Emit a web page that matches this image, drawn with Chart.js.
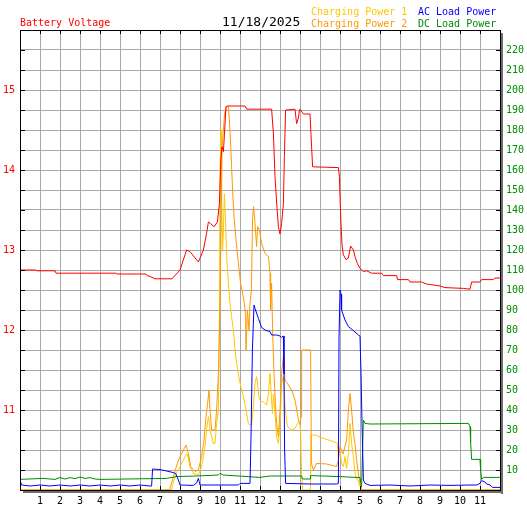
<!DOCTYPE html>
<html>
<head>
<meta charset="utf-8">
<script src="https://cdn.jsdelivr.net/npm/chart.js@4"></script>
<style>
  html, body { margin: 0; padding: 0; background: #fff; }
</style>
</head>
<body>
<canvas id="chart" width="527" height="510"></canvas>
<script>
const RED = "#ff0000";
const GOLD = "#ffc800";
const ORANGE = "#ff9900";
const BLUE = "#0000ff";
const GREEN = "#008c00";
const GRID = "#a8a8a8";
const MONO = "'DejaVu Sans Mono', monospace";

const DATE_TEXT = "11/18/2025";
const HOUR_LABELS = ["", "1", "2", "3", "4", "5", "6", "7", "8", "9", "10", "11", "12",
  "1", "2", "3", "4", "5", "6", "7", "8", "9", "10", "11", ""];
const VOLT_LABELS = [11, 12, 13, 14, 15];
const WATT_LABELS = [10, 20, 30, 40, 50, 60, 70, 80, 90, 100, 110, 120, 130, 140, 150, 160, 170, 180, 190, 200, 210, 220];

// hours since midnight / values
const BATT_T = [0, 0.8, 0.85, 1.75, 1.8, 4.8, 4.85, 6.3, 6.35, 6.5, 6.75, 7.6, 8.0, 8.33, 8.5, 8.92, 9.17, 9.33, 9.42, 9.53, 9.7, 9.87, 9.97, 10.05, 10.1, 10.17, 10.22, 10.3, 10.37, 11.25, 11.33, 12.58, 12.67, 12.75, 12.83, 12.92, 13.0, 13.08, 13.17, 13.22, 13.28, 13.75, 13.83, 13.92, 13.97, 14.0, 14.17, 14.5, 14.55, 14.63, 15.92, 15.97, 16.0, 16.05, 16.1, 16.17, 16.3, 16.42, 16.53, 16.67, 16.75, 16.87, 17.0, 17.17, 17.33, 17.58, 18.08, 18.17, 18.83, 18.88, 19.42, 19.5, 20.08, 20.33, 21.0, 21.25, 22.17, 22.5, 22.58, 23.0, 23.08, 23.67, 23.75, 24];
const BATT_V = [12.75, 12.75, 12.74, 12.74, 12.71, 12.71, 12.70, 12.70, 12.68, 12.67, 12.64, 12.64, 12.75, 13.0, 12.98, 12.85, 13.0, 13.21, 13.35, 13.33, 13.29, 13.35, 13.58, 14.17, 14.29, 14.23, 14.44, 14.79, 14.80, 14.80, 14.76, 14.76, 14.46, 13.92, 13.6, 13.29, 13.2, 13.33, 13.58, 14.17, 14.75, 14.76, 14.58, 14.65, 14.75, 14.76, 14.70, 14.70, 14.44, 14.04, 14.03, 13.92, 13.67, 13.33, 13.06, 12.94, 12.88, 12.90, 13.05, 13.0, 12.92, 12.83, 12.77, 12.73, 12.74, 12.71, 12.71, 12.68, 12.68, 12.63, 12.63, 12.60, 12.60, 12.575, 12.55, 12.53, 12.52, 12.51, 12.60, 12.60, 12.63, 12.63, 12.65, 12.65];

const CP1_T = [0, 7.58, 7.67, 7.83, 8.0, 8.17, 8.33, 8.42, 8.5, 8.67, 8.92, 9.08, 9.25, 9.33, 9.42,
  9.5, 9.67, 9.75, 9.83, 9.92, 9.97, 10.0, 10.05, 10.08, 10.13, 10.17, 10.22, 10.27, 10.33, 10.42, 10.5, 10.58, 10.67, 10.75, 10.83, 10.97, 11.08, 11.17, 11.3, 11.42, 11.5, 11.58, 11.67, 11.75, 11.83, 11.97, 12.17, 12.33, 12.42, 12.5, 12.55, 12.62, 12.67, 12.75, 12.83, 12.92, 13.0, 13.08, 13.17, 13.25, 13.37, 13.58, 13.75, 13.87, 13.97, 14.03, 14.08, 14.13, 14.52,
  14.55, 14.75, 15.17, 15.67, 15.88, 15.92, 16.0, 16.08, 16.17, 16.25, 16.33, 16.42, 16.5, 16.58, 16.67, 16.75, 16.83, 16.92, 17.0, 17.1, 24];
const CP1_W = [0, 0, 4.2, 8.3, 11.7, 15, 18.3, 16, 11.7, 8.3, 7.5, 11.7, 21.7, 30, 36.7,
  30, 23.3, 23.3, 33.3, 40, 83, 158, 180, 150, 120, 130, 148, 136.7, 116.7, 103.3, 93.3, 86.7, 80, 70, 63.3, 55, 50, 46.7, 40, 33.3, 32.5, 32.5, 41.7, 53.3, 56.7, 45, 44, 42.5, 48, 58.3, 50, 38.3, 48, 38.3, 26.7, 23.3, 33.3, 53.3, 56.7, 41.7, 31.7, 30, 30.8, 33.3, 34, 30, 8.3, 0, 0,
  27.5, 27.5, 25.8, 24.2, 23.3, 16.7, 20, 13.3, 11.7, 16.7, 10.8, 18.3, 33.3, 23.3, 16.7, 8.3, 5.8, 4.2, 1.7, 0, 0];

const CP2_T = [0, 7.47, 7.67, 7.92, 8.17, 8.3, 8.42, 8.53, 8.75, 8.92, 9.08, 9.2, 9.3, 9.38, 9.45,
  9.5, 9.58, 9.75, 9.83, 9.92, 10.0, 10.05, 10.1, 10.17, 10.23, 10.33, 10.42, 10.47, 10.53, 10.58, 10.63, 10.7, 10.8, 10.92, 11.03, 11.13, 11.22, 11.28, 11.3, 11.37, 11.45, 11.5, 11.57, 11.63, 11.68, 11.75, 11.83, 11.88, 11.97, 12.08, 12.25, 12.42, 12.5, 12.53, 12.58, 12.63, 12.7, 12.77, 12.83, 12.92, 13.0, 13.08, 13.17, 13.25, 13.37, 13.58, 13.75, 13.87, 13.92, 14.0, 14.05, 14.08, 14.53, 14.57,
  14.67, 14.83, 15.33, 15.83, 15.92, 16.0, 16.15, 16.33, 16.42, 16.5, 16.58, 16.67, 16.75, 16.83, 16.92, 17.0, 17.08, 17.15, 24];
const CP2_W = [0, 0, 6.7, 15, 20, 22.5, 18.3, 11.7, 9.2, 10, 16.7, 25, 36.7, 43.3, 50,
  40, 30, 30, 40, 58.3, 91.7, 130, 171.7, 180, 188.3, 191.7, 191.7, 185, 173.3, 161.7, 150, 136.7, 125, 113.3, 103.3, 98.3, 93.3, 86.7, 70, 90, 80, 93.3, 100, 136.7, 141.7, 133.3, 121.7, 131.7, 130, 123.3, 118.3, 116.7, 108.3, 90, 103.3, 80, 58.3, 43.3, 33.3, 26.7, 40, 58.3, 66.7, 55, 53.3, 50, 45, 38.3, 35, 33.3, 36.7, 70, 70, 13.3,
  10, 13.3, 13, 11.7, 15, 21.7, 18, 25, 40, 48.3, 40, 28.3, 23.3, 15, 8.3, 3.3, 0.8, 0, 0];

const AC_T = [0, 0.08, 0.5, 1, 1.5, 2, 2.5, 3, 3.5, 4, 4.5, 5, 5.5, 6, 6.5, 6.58, 6.63, 7.0, 7.33, 7.67, 7.78, 7.92, 8.0, 8.67, 8.83, 8.92, 9.0, 10.92, 11.0, 11.5, 11.55, 11.62, 11.7, 11.75, 11.92, 12.08, 12.25, 12.5, 12.58, 12.83, 13.0, 13.08, 13.17, 13.2, 13.23, 13.28, 14.5, 15.83, 15.92, 15.95, 16.0, 16.05, 16.08, 16.25, 16.42, 16.67, 16.92, 17.0, 17.05, 17.1, 17.17, 17.25, 17.5, 18.5, 19.5, 20.5, 21.5, 22.5, 22.83, 23.0, 23.08, 23.25, 23.33, 23.5, 23.63, 24];
const AC_W = [5, 2.5, 2, 2.5, 2, 2.5, 2, 2.5, 2, 2.5, 2, 2.5, 2, 2.5, 2, 2, 10.5, 10.2, 9.5, 8.7, 8.3, 5, 2.5, 2.3, 3.5, 5.8, 2.5, 2.5, 3.3, 3.3, 26.7, 70, 92.5, 90.8, 85.8, 81.3, 80, 79.2, 77.5, 77.5, 77, 76.3, 77, 58, 20, 3.3, 3, 3, 3.3, 75.8, 100, 98, 90, 85, 81.7, 79.7, 77.5, 77, 58.3, 33.3, 5, 3.3, 2.3, 2.5, 2, 2.5, 2.3, 2.5, 2.5, 3.3, 4.7, 4, 3, 2.5, 1.3, 1.3];

const DC_T = [0, 1.15, 1.75, 2.0, 2.25, 2.5, 2.75, 3.0, 3.25, 3.5, 3.75, 4.0, 7.33, 7.83, 8.83, 9.92, 10.0, 10.17, 12.0, 12.5, 14.08, 14.13, 14.5, 14.53, 16.0, 17.0, 17.08, 17.13, 17.17, 17.25, 17.5, 22.42, 22.5, 22.53, 22.58, 23.0, 23.03, 23.08, 23.17, 24];
const DC_W = [5.3, 5.8, 5.3, 6.2, 5.5, 6.2, 5.7, 6.5, 5.8, 6.2, 5.5, 5.3, 5.8, 6.7, 7, 7.5, 8.3, 7.5, 6.3, 7, 7, 5.5, 5.5, 7.2, 6.7, 6.2, 1.7, 20.8, 35, 33.3, 33, 33.3, 31.7, 24.2, 15.3, 15.3, 10, 5.3, 6.3, 6.3];

const pts = (t, v) => t.map((x, i) => ({ x, y: v[i] }));

function line(label, t, v, color, axis, order) {
  return {
    label,
    data: pts(t, v),
    yAxisID: axis,
    borderColor: color,
    backgroundColor: color,
    borderWidth: 1,
    pointRadius: 0,
    tension: 0,
    fill: false,
    order,
  };
}

// frame, small inner ticks, drop shadow and header texts
const framePlugin = {
  id: "frame",
  beforeDraw(chart) {
    const { ctx, width, height } = chart;
    ctx.save();
    ctx.fillStyle = "#fff";
    ctx.fillRect(0, 0, width, height);
    ctx.restore();
  },
  afterDatasetsDraw(chart) {
    const { ctx, chartArea: a, scales } = chart;
    ctx.save();
    ctx.fillStyle = "#6e6e6e";
    ctx.fillRect(a.right + 1, a.top + 3, 2, a.bottom - a.top + 1);
    ctx.fillRect(a.left + 3, a.bottom + 1, a.right - a.left, 2);

    ctx.strokeStyle = "#000";
    ctx.lineWidth = 1;
    ctx.strokeRect(a.left + 0.5, a.top + 0.5, a.right - a.left, a.bottom - a.top);

    ctx.beginPath();
    for (let h = 1; h < 24; h++) {
      const x = Math.round(scales.x.getPixelForValue(h)) + 0.5;
      ctx.moveTo(x, a.top); ctx.lineTo(x, a.top + 4);
      ctx.moveTo(x, a.bottom); ctx.lineTo(x, a.bottom - 4);
    }
    for (let k = 1; k < 23; k++) {
      const y = Math.round(scales.y.getPixelForValue(10 + k * 0.25)) + 0.5;
      ctx.moveTo(a.left, y); ctx.lineTo(a.left + 5, y);
      ctx.moveTo(a.right, y); ctx.lineTo(a.right - 4, y);
    }
    ctx.stroke();
    ctx.restore();
  },
  afterDraw(chart) {
    const { ctx } = chart;
    ctx.save();
    ctx.textBaseline = "alphabetic";
    ctx.textAlign = "left";
    ctx.font = "10px " + MONO;
    ctx.fillStyle = RED;
    ctx.fillText("Battery Voltage", 20, 26);
    ctx.fillStyle = GOLD;
    ctx.fillText("Charging Power 1", 311, 15);
    ctx.fillStyle = ORANGE;
    ctx.fillText("Charging Power 2", 311, 27);
    ctx.fillStyle = BLUE;
    ctx.fillText("AC Load Power", 418, 15);
    ctx.fillStyle = GREEN;
    ctx.fillText("DC Load Power", 418, 27);
    ctx.font = "13px " + MONO;
    ctx.fillStyle = "#000";
    ctx.fillText(DATE_TEXT, 222, 26);
    ctx.restore();
  },
};

new Chart(document.getElementById("chart"), {
  type: "line",
  data: {
    datasets: [
      line("Charging Power 1", CP1_T, CP1_W, GOLD, "yW", 5),
      line("Charging Power 2", CP2_T, CP2_W, ORANGE, "yW", 4),
      line("DC Load Power", DC_T, DC_W, GREEN, "yW", 3),
      line("AC Load Power", AC_T, AC_W, BLUE, "yW", 2),
      line("Battery Voltage", BATT_T, BATT_V, RED, "y", 1),
    ],
  },
  options: {
    responsive: false,
    animation: false,
    events: [],
    layout: { padding: { top: 30, left: 0, right: 0, bottom: 0 } },
    plugins: {
      legend: { display: false },
      title: { display: false },
      tooltip: { enabled: false },
    },
    scales: {
      x: {
        type: "linear",
        min: 0,
        max: 24,
        afterFit: (s) => { s.height = 20; },
        border: { display: false },
        grid: { color: GRID, lineWidth: 1, drawTicks: false },
        ticks: {
          stepSize: 1,
          autoSkip: false,
          maxRotation: 0,
          padding: 5,
          color: "#000",
          font: { family: MONO, size: 10 },
          callback: (v) => HOUR_LABELS[v] ?? "",
        },
      },
      y: {
        position: "left",
        min: 10,
        max: 15.75,
        afterFit: (s) => { s.width = 20; },
        border: { display: false },
        grid: { color: GRID, lineWidth: 1, drawTicks: false },
        ticks: {
          stepSize: 0.25,
          autoSkip: false,
          padding: 5,
          color: RED,
          font: { family: MONO, size: 10 },
          callback: (v) => (VOLT_LABELS.includes(v) ? String(v) : ""),
        },
      },
      yW: {
        position: "right",
        min: 0,
        max: 230,
        afterFit: (s) => { s.width = 27; },
        border: { display: false },
        grid: { drawOnChartArea: false, drawTicks: false },
        ticks: {
          stepSize: 10,
          autoSkip: false,
          padding: 6,
          color: GREEN,
          font: { family: MONO, size: 10 },
          callback: (v) => (WATT_LABELS.includes(v) ? String(v) : ""),
        },
      },
    },
  },
  plugins: [framePlugin],
});
</script>
</body>
</html>
